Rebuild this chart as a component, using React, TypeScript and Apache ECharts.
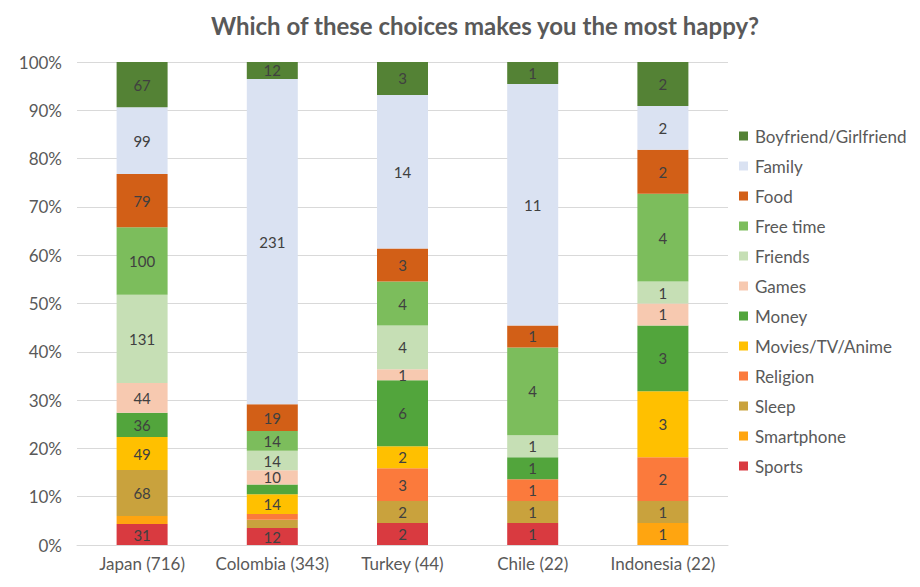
import React, { useEffect, useRef } from "react";
import * as echarts from "echarts";

const categories = ["Japan (716)", "Colombia (343)", "Turkey (44)", "Chile (22)", "Indonesia (22)"];
const legendOrder = [
  "Boyfriend/Girlfriend", "Family", "Food", "Free time", "Friends", "Games",
  "Money", "Movies/TV/Anime", "Religion", "Sleep", "Smartphone", "Sports",
];

// counts per category: Japan, Colombia, Turkey, Chile, Indonesia
const sports = [31, 12, 2, 1, 0];
const smartphone = [12, 0, 0, 0, 1];
const sleep = [68, 6, 2, 1, 1];
const religion = [0, 4, 3, 1, 2];
const movies = [49, 14, 2, 0, 3];
const money = [36, 7, 6, 1, 3];
const games = [44, 10, 1, 0, 1];
const friends = [131, 14, 4, 1, 1];
const freeTime = [100, 14, 4, 4, 4];
const food = [79, 19, 3, 1, 2];
const family = [99, 231, 14, 11, 2];
const boyfriend = [67, 12, 3, 1, 2];

const seriesDefs: { name: string; data: number[]; color: string }[] = [
  { name: "Sports", data: sports, color: "#D93A40" },
  { name: "Smartphone", data: smartphone, color: "#FFA510" },
  { name: "Sleep", data: sleep, color: "#C9A23D" },
  { name: "Religion", data: religion, color: "#FB7A3C" },
  { name: "Movies/TV/Anime", data: movies, color: "#FFC000" },
  { name: "Money", data: money, color: "#52A53C" },
  { name: "Games", data: games, color: "#F7C9B0" },
  { name: "Friends", data: friends, color: "#C6DFB5" },
  { name: "Free time", data: freeTime, color: "#7CBD5C" },
  { name: "Food", data: food, color: "#D25F17" },
  { name: "Family", data: family, color: "#DAE2F2" },
  { name: "Boyfriend/Girlfriend", data: boyfriend, color: "#548235" },
];

export default function App() {
  const ref = useRef<HTMLDivElement>(null);
  useEffect(() => {
    if (!ref.current) return;
    const chart = echarts.init(ref.current, undefined, { renderer: "svg" });
    const totals = categories.map((_, i) => seriesDefs.reduce((s, d) => s + d.data[i], 0));
    const font = "Lato, 'Noto Sans', sans-serif";
    chart.setOption({
      animation: false,
      backgroundColor: "#ffffff",
      textStyle: { fontFamily: font },
      title: {
        text: "Which of these choices makes you the most happy?",
        left: 480,
        textAlign: "center",
        top: 8,
        textStyle: { fontSize: 24, fontWeight: "bold", color: "#595959", fontFamily: font },
      },
      legend: {
        orient: "vertical",
        left: 734,
        top: 122,
        data: legendOrder,
        itemWidth: 9,
        itemHeight: 9,
        itemGap: 12,
        icon: "rect",
        textStyle: { fontSize: 17, color: "#595959", lineHeight: 18, padding: [0, 0, 0, 2] },
      },
      grid: { left: 77, right: 192, top: 62, bottom: 42 },
      xAxis: {
        type: "category",
        data: categories,
        axisLine: { lineStyle: { color: "#D9D9D9" } },
        axisTick: { show: false },
        axisLabel: { fontSize: 17, color: "#595959", margin: 10, interval: 0 },
      },
      yAxis: {
        type: "value",
        min: 0,
        max: 100,
        interval: 10,
        axisLabel: { fontSize: 17, color: "#595959", formatter: "{value}%", margin: 15 },
        splitLine: { lineStyle: { color: "#D9D9D9" } },
        axisLine: { show: false },
        axisTick: { show: false },
      },
      series: seriesDefs.map((d) => ({
        name: d.name,
        type: "bar",
        stack: "total",
        barWidth: 51,
        itemStyle: { color: d.color },
        data: d.data.map((v, i) => {
          const pct = (v / totals[i]) * 100;
          return {
            value: pct,
            raw: v,
            label: { show: v > 0 && pct >= 2.2 },
          };
        }),
        label: {
          position: "inside",
          fontSize: 15,
          color: "#404040",
          formatter: (p: any) => String(p.data.raw),
        },
      })),
    });
    return () => chart.dispose();
  }, []);
  return <div ref={ref} style={{ position: "fixed", left: 0, top: 0, width: 920, height: 587 }} />;
}
